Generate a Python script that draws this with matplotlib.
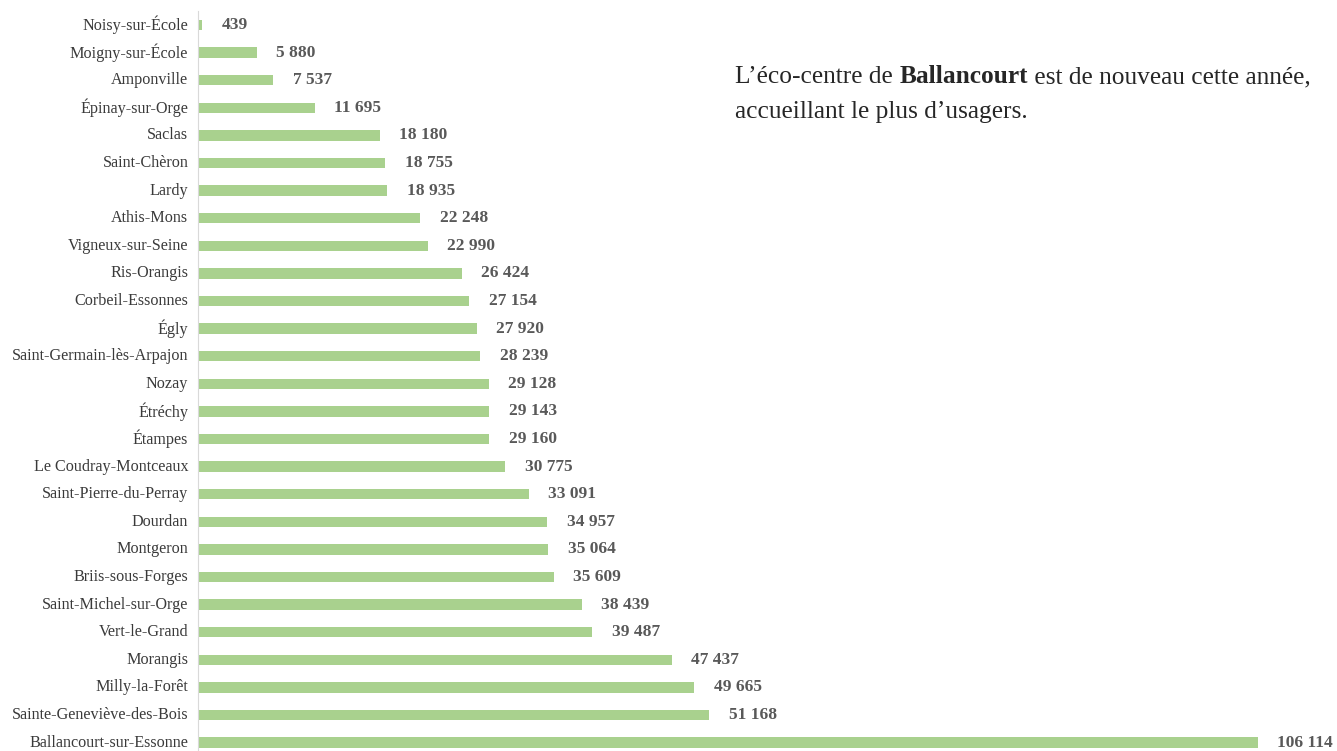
import numpy as np
import matplotlib.pyplot as plt

# 数据
communes = ['Noisy-sur-École', 'Moigny-sur-École', 'Amponville', 'Épinay-sur-Orge', 'Saclas',
            'Saint-Chèron', 'Lardy', 'Athis-Mons', 'Vigneux-sur-Seine', 'Ris-Orangis',
            'Corbeil-Essonnes', 'Égly', 'Saint-Germain-lès-Arpajon', 'Nozay', 'Étréchy',
            'Étampes', 'Le Coudray-Montceaux', 'Saint-Pierre-du-Perray', 'Dourdan', 'Montgeron',
            'Briis-sous-Forges', 'Saint-Michel-sur-Orge', 'Vert-le-Grand', 'Morangis',
            'Milly-la-Forêt', 'Sainte-Geneviève-des-Bois', 'Ballancourt-sur-Essonne']
usagers = [439, 5880, 7537, 11695, 18180, 18755, 18935, 22248, 22990, 26424,
           27154, 27920, 28239, 29128, 29143, 29160, 30775, 33091, 34957, 35064,
           35609, 38439, 39487, 47437, 49665, 51168, 106114]

plt.rcParams['font.family'] = ['Liberation Serif', 'DejaVu Serif']

W, H = 1337, 751
fig = plt.figure(figsize=(W / 100, H / 100), dpi=100)

# 坐标轴位置 (像素换算)
y0, step = 25, 27.6
top_px = y0 - 0.5 * step
bot_px = y0 + (len(communes) - 0.5) * step
ax = fig.add_axes([198 / W, 1 - bot_px / H, 1 - 198 / W, (bot_px - top_px) / H])

y = np.arange(len(communes))
ax.barh(y, usagers, height=0.37, color='#a9d18e', edgecolor='none')
ax.set_ylim(len(communes) - 0.5, -0.5)
ax.set_xlim(0, 106114 * (W - 198) / 1060)

ax.set_yticks(y)
ax.set_yticklabels(communes, fontsize=11.6, color='#3a3a3a', va='center')
ax.tick_params(axis='y', length=0, pad=7)
ax.set_xticks([])
for s in ['top', 'right', 'bottom']:
    ax.spines[s].set_visible(False)
ax.spines['left'].set_color('#d9d9d9')

for i, v in enumerate(usagers):
    lab = f'{v:,}'.replace(',', ' ')
    ax.annotate(lab, xy=(v, i), xytext=(14, 0), textcoords='offset points',
                ha='left', va='center', fontsize=12.5, fontweight='bold', color='#595959')

# 右上角文字
fs = 18.3
t1 = fig.text(735 / W, 1 - 83 / H, 'L’éco-centre de ', fontsize=fs, color='#262626')
t2 = ax.annotate('Ballancourt', xycoords=t1, xy=(1, 0), va='bottom', fontsize=fs,
                 color='#262626', fontweight='bold', annotation_clip=False)
ax.annotate(' est de nouveau cette année,', xycoords=t2, xy=(1, 0), va='bottom',
            fontsize=fs, color='#262626', annotation_clip=False)
fig.text(735 / W, 1 - 118 / H, 'accueillant le plus d’usagers.', fontsize=fs, color='#262626')

fig.savefig('out.png', dpi=100)
